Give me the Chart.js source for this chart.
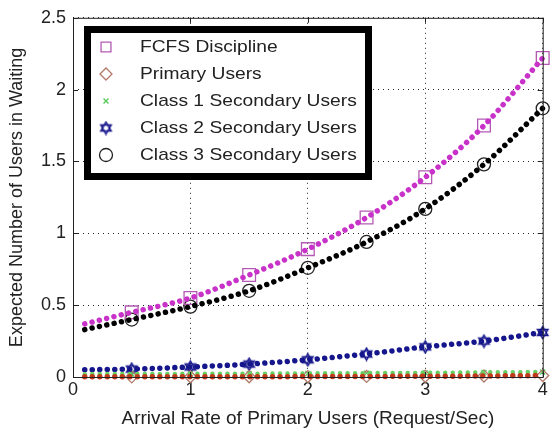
<!DOCTYPE html>
<html>
<head>
<meta charset="utf-8">
<script src="https://cdn.jsdelivr.net/npm/chart.js@4/dist/chart.umd.min.js"></script>
<style>
	html, body { margin: 0; padding: 0; background: #fff; }
</style>
</head>
<body>
<canvas id="waiting-chart" width="553" height="432"></canvas>
<script>
// arrival rate of primary users; the dotted curves start at 0.1, markers every 0.5
const lineX = [0.1, 0.5, 1, 1.5, 2, 2.5, 3, 3.5, 4];
const fcfs = [0.37, 0.45, 0.55, 0.71, 0.89, 1.11, 1.39, 1.75, 2.22];
const primary = [0.001, 0.001, 0.002, 0.002, 0.003, 0.004, 0.005, 0.007, 0.01];
const class1 = [0.02, 0.021, 0.022, 0.023, 0.025, 0.027, 0.029, 0.032, 0.035];
const class2 = [0.05, 0.055, 0.07, 0.09, 0.12, 0.16, 0.21, 0.25, 0.31];
const class3 = [0.33, 0.40, 0.49, 0.60, 0.76, 0.94, 1.17, 1.48, 1.87];

const seriesNames = ['FCFS Discipline', 'Primary Users', 'Class 1 Secondary Users', 'Class 2 Secondary Users', 'Class 3 Secondary Users'];
const xTicks = [0, 1, 2, 3, 4];
const yTicks = [0, 0.5, 1, 1.5, 2, 2.5];

const font = "'Liberation Sans', Arial, sans-serif";

function hexagram(size, color) {
	const c = document.createElement('canvas');
	c.width = c.height = size;
	const g = c.getContext('2d');
	const r = size / 2 - 1.5;
	g.strokeStyle = color;
	g.lineWidth = 1.5;
	for (const off of [-Math.PI / 2, Math.PI / 2]) {
		g.beginPath();
		for (let k = 0; k < 3; k++) {
			const a = off + k * 2 * Math.PI / 3;
			g.lineTo(size / 2 + r * Math.cos(a), size / 2 + r * Math.sin(a));
		}
		g.closePath();
		g.stroke();
	}
	return c;
}

const styles = [
	{ line: '#c832c8', mark: '#b45ab4', pointStyle: 'rect', radius: 9 },
	{ line: '#c0391b', mark: '#b07a6a', pointStyle: 'rectRot', radius: 6 },
	{ line: '#66d060', mark: '#55c855', pointStyle: 'crossRot', radius: 3.5 },
	{ line: '#16168c', mark: '#16168c', pointStyle: hexagram(15, '#16168c'), radius: 7 },
	{ line: '#000000', mark: '#222222', pointStyle: 'circle', radius: 6.5 }
];
const values = [fcfs, primary, class1, class2, class3];

const datasets = [];
values.forEach((vals, i) => {
	datasets.push({
		data: lineX.map((x, j) => ({ x: x, y: vals[j] })),
		showLine: true,
		borderColor: styles[i].line,
		borderWidth: i == 2 ? 4.5 : 5.5,
		borderDash: [0.01, 7.5],
		borderCapStyle: 'round',
		cubicInterpolationMode: 'monotone',
		pointRadius: 0,
		clip: 6
	});
});
values.forEach((vals, i) => {
	datasets.push({
		label: seriesNames[i],
		data: lineX.slice(1).map((x, j) => ({ x: x, y: vals[j + 1] })),
		showLine: false,
		pointStyle: styles[i].pointStyle,
		pointRadius: styles[i].radius,
		pointBorderColor: styles[i].mark,
		pointBackgroundColor: 'rgba(0,0,0,0)',
		pointBorderWidth: 1.3,
		clip: false
	});
});

const frame = {
	id: 'frame',
	afterDatasetsDraw(chart) {
		const { ctx, chartArea: a, scales } = chart;
		ctx.save();
		ctx.strokeStyle = '#222';
		ctx.lineWidth = 1;
		ctx.strokeRect(a.left + 0.5, a.top + 0.5, a.right - a.left, a.bottom - a.top);
		ctx.beginPath();
		xTicks.forEach(v => {
			const px = Math.round(scales.x.getPixelForValue(v)) + 0.5;
			ctx.moveTo(px, a.bottom); ctx.lineTo(px, a.bottom - 5);
			ctx.moveTo(px, a.top); ctx.lineTo(px, a.top + 5);
		});
		yTicks.forEach(v => {
			const py = Math.round(scales.y.getPixelForValue(v)) + 0.5;
			ctx.moveTo(a.left, py); ctx.lineTo(a.left + 5, py);
			ctx.moveTo(a.right, py); ctx.lineTo(a.right - 5, py);
		});
		ctx.stroke();
		ctx.restore();
	},
	afterDraw(chart) {
		// legend box with heavy border
		const ctx = chart.ctx;
		ctx.save();
		ctx.fillStyle = '#fff';
		ctx.fillRect(84, 26, 288, 154);
		ctx.strokeStyle = '#000';
		ctx.lineWidth = 7;
		ctx.strokeRect(87.5, 29.5, 281, 147);
		ctx.font = '17px ' + font;
		ctx.textBaseline = 'middle';
		seriesNames.forEach((name, i) => {
			const y = 47 + i * 27;
			const st = styles[i];
			ctx.strokeStyle = st.mark;
			ctx.fillStyle = 'rgba(0,0,0,0)';
			ctx.lineWidth = 1.3;
			Chart.helpers.drawPoint(ctx, {
				pointStyle: st.pointStyle,
				radius: i == 0 ? 7 : st.radius,
				rotation: 0,
				borderWidth: 1.3
			}, 106, y);
			ctx.save();
			ctx.fillStyle = '#222';
			ctx.translate(140, y);
			ctx.scale(1.13, 1);
			ctx.fillText(name, 0, 0);
			ctx.restore();
		});
		ctx.restore();
	}
};

new Chart(document.getElementById('waiting-chart').getContext('2d'), {
	type: 'scatter',
	data: { datasets: datasets },
	options: {
		responsive: false,
		animation: false,
		layout: { padding: { top: 17, right: 6, left: 0, bottom: 0 } },
		plugins: { legend: { display: false }, tooltip: { enabled: false } },
		scales: {
			x: {
				type: 'linear',
				min: 0,
				max: 4,
				afterBuildTicks: s => { s.ticks = xTicks.map(v => ({ value: v })); },
				afterFit: s => { s.height = 55; },
				grid: { color: '#222', drawTicks: false },
				border: { display: false, dash: [1, 4] },
				ticks: { color: '#222', font: { family: font, size: 18 }, padding: 2, maxRotation: 0, callback: v => String(v) },
				title: {
					display: true,
					text: 'Arrival Rate of Primary Users (Request/Sec)',
					color: '#222',
					font: { family: font, size: 19 },
					padding: { top: 0, bottom: 2 }
				}
			},
			y: {
				min: 0,
				max: 2.5,
				afterBuildTicks: s => { s.ticks = yTicks.map(v => ({ value: v })); },
				afterFit: s => { s.width = 73; },
				grid: { color: '#222', drawTicks: false },
				border: { display: false, dash: [1, 4] },
				ticks: { color: '#222', font: { family: font, size: 18 }, padding: 7, callback: v => String(v) },
				title: {
					display: true,
					text: 'Expected Number of Users in Waiting',
					color: '#222',
					font: { family: font, size: 18 },
					padding: { top: 6, bottom: 0 }
				}
			}
		}
	},
	plugins: [frame]
});
</script>
</body>
</html>
